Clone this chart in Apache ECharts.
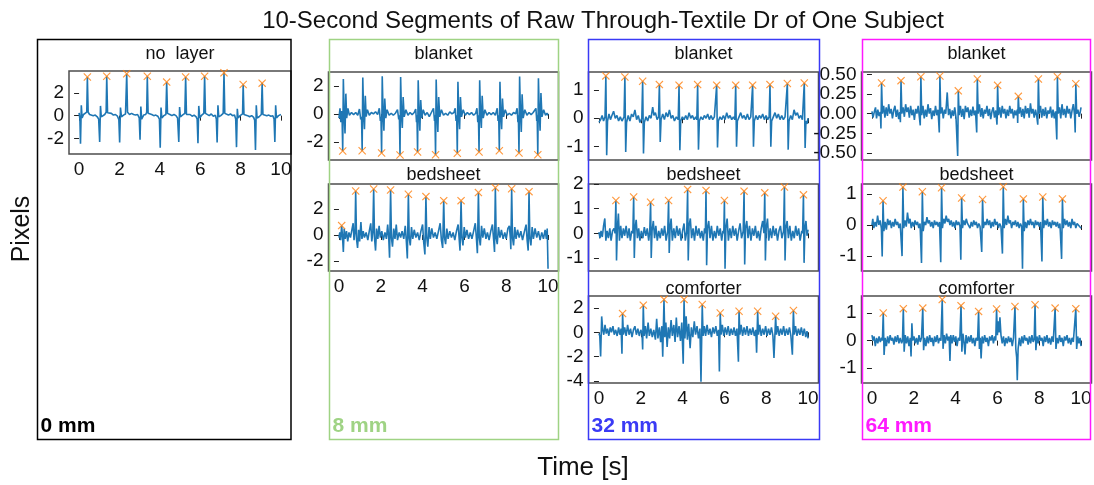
<!DOCTYPE html>
<html>
<head>
<meta charset="utf-8">
<script src="https://cdn.jsdelivr.net/npm/echarts@6.0.0/dist/echarts.min.js"></script>
<style>
  html, body { margin: 0; padding: 0; background: #fff; }
  #chart { width: 1094px; height: 485px; }
</style>
</head>
<body>
<div id="chart"></div>
<script>
// ---- data: [time s, pixels] ----
const sigNoLayer = [[0,0.25],[0.04,-0.3],[0.07,-2.45],[0.11,0.9],[0.15,-0.2],[0.22,0.1],[0.3,0.05],[0.38,0.3],[0.41,3.38],[0.45,0.3],[0.52,0.1],[0.6,0.15],[0.7,0.0],[0.8,0.05],[0.9,-0.1],[0.97,-0.3],[1.02,-2.3],[1.06,0.85],[1.1,-0.1],[1.18,0.05],[1.27,0.1],[1.34,0.3],[1.37,3.44],[1.41,0.25],[1.5,0.1],[1.6,0.2],[1.7,0.05],[1.8,0.1],[1.9,-0.05],[1.97,-0.35],[2.01,-2.35],[2.05,0.7],[2.1,-0.1],[2.2,0.05],[2.3,0.15],[2.33,0.3],[2.36,3.65],[2.4,0.3],[2.5,0.1],[2.6,0.2],[2.7,0.1],[2.8,0.05],[2.9,0.1],[2.98,-0.2],[3.02,-2.1],[3.06,0.8],[3.1,-0.3],[3.2,0.05],[3.3,0.1],[3.35,0.3],[3.38,3.44],[3.42,0.2],[3.5,0.05],[3.6,0.1],[3.7,0.0],[3.8,0.05],[3.9,-0.05],[3.98,-0.3],[4.02,-2.8],[4.06,0.7],[4.1,-0.2],[4.2,0.0],[4.3,0.1],[4.34,2.93],[4.38,0.2],[4.5,0.1],[4.6,0.0],[4.7,0.1],[4.8,0.0],[4.88,-0.2],[4.94,-2.3],[4.98,0.75],[5.02,-0.1],[5.12,0.05],[5.24,0.2],[5.28,3.38],[5.32,0.1],[5.4,0.0],[5.5,0.1],[5.6,-0.05],[5.7,0.05],[5.8,-0.1],[5.85,-0.3],[5.89,-2.4],[5.93,0.85],[5.98,-0.2],[6.08,0.05],[6.18,0.2],[6.22,3.44],[6.26,0.2],[6.35,0.1],[6.45,0.0],[6.55,0.15],[6.65,-0.05],[6.75,0.05],[6.8,-0.3],[6.84,-2.35],[6.88,0.9],[6.92,-0.1],[7.02,0.0],[7.14,0.2],[7.18,3.74],[7.22,0.2],[7.3,0.1],[7.4,0.05],[7.5,0.15],[7.6,0.0],[7.7,0.05],[7.76,-0.3],[7.8,-2.75],[7.84,0.6],[7.88,-0.2],[7.98,0.0],[8.1,0.15],[8.13,2.72],[8.17,0.1],[8.25,-0.05],[8.35,0.0],[8.45,-0.1],[8.55,0.0],[8.65,-0.15],[8.7,-0.4],[8.74,-3.0],[8.78,0.9],[8.82,-0.2],[8.92,-0.1],[9.03,0.1],[9.07,2.84],[9.11,0.1],[9.2,-0.05],[9.3,0.0],[9.4,0.05],[9.5,-0.05],[9.6,0.0],[9.66,-0.3],[9.7,-2.3],[9.74,0.9],[9.78,-0.2],[9.88,0.0],[9.95,0.15],[10,0.1]];
const peakTNoLayer = [0.41,1.37,2.36,3.38,4.34,5.28,6.22,7.18,8.13,9.07];
const peakVNoLayer = [3.38,3.44,3.65,3.44,2.93,3.38,3.44,3.74,2.72,2.84];

const sig8Blanket = [[0,-0.3],[0.05,0.4],[0.09,-0.6],[0.13,0.2],[0.15,-0.3],[0.18,-2.66],[0.21,2.5],[0.25,0.0],[0.29,-1.4],[0.33,1.45],[0.37,-0.3],[0.43,0.4],[0.5,-0.1],[0.6,0.1],[0.7,-0.05],[0.8,0.1],[0.9,-0.1],[0.98,0.35],[1.04,-0.4],[1.08,-0.2],[1.11,-2.64],[1.14,2.6],[1.18,0.0],[1.22,-1.1],[1.26,1.3],[1.3,-0.2],[1.36,0.3],[1.45,-0.1],[1.55,0.1],[1.65,0.0],[1.75,0.15],[1.85,-0.05],[1.93,0.4],[1.98,-0.5],[2.01,-0.2],[2.04,-2.8],[2.07,2.7],[2.11,0.1],[2.15,-1.2],[2.19,1.1],[2.24,-0.3],[2.3,0.3],[2.4,-0.1],[2.5,0.05],[2.6,-0.1],[2.7,0.05],[2.8,0.3],[2.86,-0.4],[2.89,-0.1],[2.92,-2.94],[2.95,2.64],[2.99,0.0],[3.03,-1.0],[3.07,1.2],[3.12,-0.2],[3.2,0.3],[3.3,-0.1],[3.4,0.1],[3.5,-0.05],[3.6,0.1],[3.67,0.35],[3.71,-0.6],[3.73,-0.1],[3.76,-2.73],[3.79,2.4],[3.83,0.1],[3.87,-1.2],[3.91,1.0],[3.96,-0.3],[4.03,0.3],[4.12,-0.1],[4.22,0.1],[4.32,-0.2],[4.42,0.1],[4.52,0.4],[4.57,-0.5],[4.59,-0.1],[4.62,-2.92],[4.65,2.47],[4.69,0.0],[4.73,-1.3],[4.77,1.2],[4.82,-0.2],[4.9,0.3],[5.0,-0.1],[5.1,0.05],[5.2,-0.1],[5.3,0.15],[5.4,0.0],[5.5,0.1],[5.56,0.4],[5.6,-0.5],[5.63,-0.1],[5.66,-2.82],[5.69,2.3],[5.73,0.0],[5.77,-1.1],[5.81,1.2],[5.86,-0.2],[5.94,0.3],[6.04,-0.1],[6.14,0.1],[6.24,-0.05],[6.34,0.1],[6.44,-0.1],[6.54,0.05],[6.6,0.4],[6.64,-0.6],[6.67,-0.1],[6.7,-2.73],[6.73,2.4],[6.77,0.0],[6.81,-1.0],[6.85,1.3],[6.9,-0.3],[6.98,0.3],[7.08,-0.1],[7.18,0.1],[7.28,-0.05],[7.38,0.1],[7.48,-0.1],[7.57,0.4],[7.61,-0.5],[7.64,-0.1],[7.67,-2.64],[7.7,2.3],[7.74,0.0],[7.78,-1.1],[7.82,1.1],[7.87,-0.2],[7.95,0.3],[8.05,-0.1],[8.15,0.05],[8.25,-0.1],[8.35,0.1],[8.45,0.0],[8.52,0.4],[8.56,-0.6],[8.58,-0.1],[8.61,-2.8],[8.64,2.68],[8.68,0.1],[8.72,-1.3],[8.76,1.4],[8.81,-0.3],[8.89,0.3],[8.99,-0.1],[9.09,0.1],[9.19,-0.05],[9.29,0.1],[9.42,0.4],[9.46,-0.5],[9.48,-0.1],[9.51,-2.92],[9.54,2.56],[9.58,0.1],[9.62,-1.2],[9.66,1.5],[9.71,-0.2],[9.79,0.3],[9.88,-0.1],[9.95,0.05],[10,-0.1]];
const peakT8Blanket = [0.18,1.11,2.04,2.92,3.76,4.62,5.66,6.70,7.67,8.61,9.51];
const peakV8Blanket = [-2.66,-2.64,-2.8,-2.94,-2.73,-2.92,-2.82,-2.73,-2.64,-2.8,-2.92];

const sig8Bedsheet = [[0,-0.2],[0.04,0.2],[0.08,-0.4],[0.13,0.72],[0.17,-0.1],[0.21,-1.3],[0.25,0.5],[0.3,-0.3],[0.36,0.3],[0.42,-0.5],[0.48,0.2],[0.55,-0.2],[0.62,0.4],[0.68,0.9],[0.72,-0.4],[0.77,0.3],[0.8,3.38],[0.84,-0.3],[0.89,-1.0],[0.94,0.4],[0.99,-0.5],[1.05,1.0],[1.1,-0.3],[1.16,0.3],[1.22,-0.2],[1.3,0.2],[1.38,-0.4],[1.45,0.3],[1.52,0.9],[1.57,-0.5],[1.62,0.2],[1.66,3.54],[1.7,-0.2],[1.75,-1.2],[1.8,0.5],[1.86,-0.3],[1.92,0.7],[1.98,-0.2],[2.05,0.3],[2.12,-0.4],[2.2,0.2],[2.27,-0.3],[2.33,0.8],[2.38,-0.2],[2.42,-1.75],[2.47,3.46],[2.51,-0.2],[2.56,-0.9],[2.62,0.5],[2.68,-0.3],[2.74,0.8],[2.8,-0.4],[2.88,0.2],[2.95,-0.2],[3.02,0.3],[3.1,-0.3],[3.17,0.7],[3.22,-0.4],[3.27,-1.8],[3.32,3.13],[3.36,-0.2],[3.41,-0.8],[3.47,0.6],[3.53,-0.3],[3.6,0.4],[3.68,-0.2],[3.76,0.2],[3.84,-0.4],[3.92,0.3],[4.0,0.8],[4.05,-0.5],[4.11,-1.5],[4.16,2.95],[4.2,-0.2],[4.25,-0.9],[4.31,0.6],[4.37,-0.3],[4.44,0.5],[4.52,-0.2],[4.6,0.2],[4.68,-0.3],[4.76,0.3],[4.84,0.9],[4.9,-0.4],[4.96,-1.0],[5.01,2.64],[5.05,-0.2],[5.1,-0.7],[5.16,0.5],[5.22,-0.3],[5.3,0.3],[5.38,-0.2],[5.46,0.2],[5.54,-0.4],[5.62,0.3],[5.7,0.8],[5.75,-0.3],[5.79,-1.2],[5.84,2.64],[5.88,-0.2],[5.93,-0.8],[5.99,0.6],[6.05,-0.2],[6.12,0.4],[6.2,-0.3],[6.28,0.2],[6.36,-0.3],[6.44,0.3],[6.52,0.9],[6.58,-0.4],[6.62,-1.4],[6.67,3.26],[6.71,-0.2],[6.76,-0.8],[6.82,0.7],[6.88,-0.2],[6.95,0.5],[7.03,-0.3],[7.1,0.2],[7.18,-0.4],[7.26,0.3],[7.34,0.8],[7.4,-0.4],[7.44,-1.3],[7.48,3.64],[7.52,-0.2],[7.57,-0.7],[7.63,0.6],[7.7,-0.2],[7.77,0.4],[7.85,-0.3],[7.93,0.2],[8.0,-0.3],[8.08,0.5],[8.15,0.7],[8.2,-0.3],[8.22,-1.1],[8.26,3.56],[8.3,-0.2],[8.35,-0.8],[8.41,0.6],[8.47,-0.3],[8.54,0.4],[8.62,-0.2],[8.7,0.3],[8.78,-0.4],[8.86,0.2],[8.95,0.8],[9.0,-0.4],[9.05,-1.2],[9.09,3.33],[9.13,-0.2],[9.18,-0.8],[9.24,0.6],[9.3,-0.3],[9.38,0.5],[9.46,-0.2],[9.54,0.3],[9.62,-0.4],[9.7,0.2],[9.78,-0.3],[9.86,0.4],[9.92,-0.3],[9.96,0.5],[10,-2.6]];
const peakT8Bedsheet = [0.13,0.80,1.66,2.47,3.32,4.16,5.01,5.84,6.67,7.48,8.26,9.09];
const peakV8Bedsheet = [0.72,3.38,3.54,3.46,3.13,2.95,2.64,2.64,3.26,3.64,3.56,3.33];

const sig32Blanket = [[0,-0.15],[0.08,-0.05],[0.15,0.1],[0.22,-0.1],[0.29,0.05],[0.33,1.51],[0.37,-1.32],[0.41,-0.1],[0.48,0.15],[0.55,-0.05],[0.62,0.1],[0.7,0.25],[0.78,0.0],[0.86,0.1],[0.94,-0.1],[1.02,0.05],[1.1,-0.1],[1.2,0.05],[1.24,1.47],[1.28,-1.2],[1.32,-0.15],[1.4,0.1],[1.48,-0.1],[1.56,0.15],[1.64,0.05],[1.72,0.3],[1.8,-0.05],[1.88,0.1],[1.96,-0.15],[2.05,0.0],[2.09,1.32],[2.13,-1.26],[2.17,-0.15],[2.25,0.05],[2.33,-0.1],[2.41,0.1],[2.49,0.0],[2.57,0.4],[2.63,0.1],[2.7,0.2],[2.78,-0.05],[2.85,0.05],[2.89,1.2],[2.93,-0.85],[2.97,-0.05],[3.05,0.15],[3.13,-0.05],[3.21,0.2],[3.29,0.05],[3.37,0.3],[3.45,0.0],[3.53,0.1],[3.61,-0.1],[3.7,0.05],[3.79,-0.05],[3.83,1.18],[3.87,-1.14],[3.91,-0.1],[3.99,0.05],[4.07,-0.05],[4.15,0.1],[4.23,-0.05],[4.31,0.2],[4.39,0.0],[4.47,0.1],[4.55,-0.05],[4.63,0.05],[4.68,-0.05],[4.72,1.2],[4.76,-1.12],[4.8,-0.1],[4.88,0.05],[4.96,-0.05],[5.04,0.1],[5.12,0.0],[5.2,0.15],[5.28,-0.05],[5.36,0.1],[5.44,-0.05],[5.52,0.05],[5.59,0.0],[5.63,1.18],[5.67,-1.04],[5.71,-0.1],[5.79,0.05],[5.87,-0.05],[5.95,0.1],[6.03,-0.05],[6.11,0.2],[6.19,0.0],[6.27,0.1],[6.35,-0.05],[6.43,0.05],[6.5,-0.05],[6.54,1.18],[6.58,-1.02],[6.62,-0.1],[6.7,0.05],[6.78,0.2],[6.86,0.0],[6.94,0.1],[7.02,-0.05],[7.1,0.15],[7.18,-0.05],[7.26,0.05],[7.31,0.0],[7.35,1.18],[7.39,-1.02],[7.43,-0.1],[7.51,0.1],[7.59,-0.05],[7.67,0.1],[7.75,0.0],[7.83,0.15],[7.91,-0.05],[7.99,0.1],[8.07,-0.05],[8.14,0.05],[8.18,1.2],[8.22,-1.02],[8.26,-0.1],[8.34,0.05],[8.42,0.2],[8.5,0.0],[8.58,0.15],[8.66,-0.05],[8.74,0.1],[8.82,-0.05],[8.9,0.05],[8.97,0.0],[9.01,1.24],[9.05,-1.12],[9.09,-0.1],[9.17,0.1],[9.25,-0.05],[9.33,0.3],[9.41,0.1],[9.49,0.2],[9.57,0.0],[9.65,0.1],[9.73,-0.05],[9.78,0.0],[9.82,1.26],[9.86,-1.06],[9.9,-0.1],[9.95,-0.2],[10,0.0]];
const peakT32Blanket = [0.33,1.24,2.09,2.89,3.83,4.72,5.63,6.54,7.35,8.18,9.01,9.82];
const peakV32Blanket = [1.51,1.47,1.32,1.20,1.18,1.20,1.18,1.18,1.18,1.20,1.24,1.26];

const sig32Bedsheet = [[0,0.05],[0.05,-0.2],[0.1,0.1],[0.16,-0.15],[0.22,0.3],[0.28,0.6],[0.33,-0.3],[0.39,0.1],[0.45,-0.2],[0.52,0.2],[0.58,-0.3],[0.65,0.1],[0.72,0.2],[0.77,0.0],[0.81,1.33],[0.84,-1.1],[0.88,0.2],[0.93,0.8],[0.98,-0.3],[1.04,0.3],[1.1,-0.2],[1.17,0.2],[1.23,-0.1],[1.3,0.3],[1.37,-0.2],[1.44,0.2],[1.5,-0.3],[1.57,0.1],[1.62,0.0],[1.66,1.47],[1.69,-1.0],[1.73,0.2],[1.78,0.55],[1.84,-0.2],[1.9,0.2],[1.96,-0.3],[2.03,0.1],[2.1,-0.2],[2.17,0.25],[2.24,-0.1],[2.31,0.2],[2.38,-0.3],[2.43,0.1],[2.47,1.26],[2.5,-1.0],[2.54,0.1],[2.6,0.5],[2.66,-0.2],[2.72,0.3],[2.79,-0.3],[2.86,0.1],[2.93,-0.2],[3.0,0.2],[3.07,-0.1],[3.14,0.3],[3.21,-0.3],[3.29,0.1],[3.33,1.33],[3.36,-0.8],[3.4,0.2],[3.45,0.6],[3.51,-0.3],[3.58,0.2],[3.65,-0.2],[3.72,0.3],[3.79,-0.1],[3.86,0.2],[3.93,-0.3],[4.0,0.1],[4.07,0.4],[4.13,-0.3],[4.2,0.1],[4.24,1.78],[4.27,-1.1],[4.31,0.3],[4.37,0.6],[4.43,-0.2],[4.5,0.2],[4.57,-0.3],[4.64,0.3],[4.71,-0.1],[4.78,0.2],[4.85,-0.2],[4.92,0.1],[4.99,-0.3],[5.05,0.2],[5.09,0.0],[5.12,1.74],[5.15,-1.3],[5.19,0.2],[5.25,0.5],[5.31,-0.2],[5.38,0.3],[5.45,-0.3],[5.52,0.1],[5.59,-0.2],[5.66,0.3],[5.73,-0.1],[5.8,0.2],[5.87,-0.3],[5.93,0.1],[5.97,0.0],[6.0,1.33],[6.03,-1.44],[6.07,0.2],[6.13,0.6],[6.19,-0.3],[6.26,0.2],[6.33,-0.2],[6.4,0.3],[6.47,-0.1],[6.54,0.2],[6.61,-0.3],[6.68,0.1],[6.75,0.4],[6.82,-0.2],[6.9,0.1],[6.94,1.71],[6.97,-1.27],[7.01,0.2],[7.07,0.5],[7.13,-0.2],[7.2,0.3],[7.27,-0.3],[7.34,0.2],[7.41,-0.1],[7.48,0.3],[7.55,-0.2],[7.62,0.1],[7.69,-0.3],[7.76,0.2],[7.83,0.5],[7.89,0.0],[7.93,1.64],[7.96,-1.1],[8.0,0.2],[8.06,0.6],[8.12,-0.3],[8.19,0.2],[8.26,-0.2],[8.33,0.3],[8.4,-0.1],[8.47,0.2],[8.54,-0.3],[8.61,0.1],[8.68,0.3],[8.75,-0.2],[8.83,0.1],[8.87,1.88],[8.9,-1.1],[8.94,0.2],[9.0,0.5],[9.06,-0.2],[9.13,0.3],[9.2,-0.3],[9.27,0.1],[9.34,-0.2],[9.41,0.3],[9.48,-0.1],[9.55,0.2],[9.62,-0.3],[9.7,0.1],[9.74,0.0],[9.78,1.56],[9.81,-1.2],[9.85,0.2],[9.9,0.5],[9.95,-0.1],[10,0.15]];
const peakT32Bedsheet = [0.81,1.66,2.47,3.33,4.24,5.12,6.0,6.94,7.93,8.87,9.78];
const peakV32Bedsheet = [1.33,1.47,1.26,1.33,1.78,1.74,1.33,1.71,1.64,1.88,1.56];

const sig32Comforter = [[0,-0.1],[0.04,-0.3],[0.08,-1.97],[0.13,1.3],[0.18,0.2],[0.23,-0.2],[0.29,0.6],[0.35,-0.1],[0.41,0.3],[0.47,-0.3],[0.54,0.4],[0.6,0.0],[0.67,0.5],[0.73,-0.2],[0.8,0.2],[0.87,-0.3],[0.94,0.4],[1.0,-0.2],[1.06,0.3],[1.1,-1.75],[1.13,1.53],[1.17,-0.2],[1.23,0.4],[1.3,-0.3],[1.37,0.6],[1.44,-0.2],[1.51,0.3],[1.58,-0.4],[1.65,0.2],[1.72,0.5],[1.79,-0.2],[1.86,0.3],[1.93,-0.3],[2.0,0.2],[2.06,-0.1],[2.09,-1.4],[2.12,2.22],[2.16,-0.3],[2.22,0.5],[2.28,-0.5],[2.35,0.8],[2.41,-0.3],[2.48,0.3],[2.55,-0.4],[2.62,0.2],[2.7,-0.6],[2.76,1.1],[2.82,-0.5],[2.89,0.4],[2.95,-0.8],[3.01,0.5],[3.05,-2.0],[3.11,2.69],[3.15,-0.4],[3.2,0.8],[3.26,-1.2],[3.32,0.4],[3.38,-0.5],[3.45,1.0],[3.51,-0.3],[3.58,0.6],[3.64,-0.8],[3.7,1.2],[3.76,-0.4],[3.83,0.5],[3.9,-0.7],[3.96,0.8],[4.03,-2.58],[4.07,2.69],[4.11,-0.5],[4.17,1.3],[4.23,-0.6],[4.29,0.7],[4.36,-1.3],[4.42,0.4],[4.49,-0.4],[4.56,0.9],[4.62,-0.2],[4.69,0.5],[4.76,-0.5],[4.83,0.3],[4.88,-4.05],[4.94,2.28],[4.98,-0.3],[5.04,0.5],[5.1,-0.3],[5.17,0.6],[5.24,-0.2],[5.31,0.3],[5.38,-0.4],[5.45,0.4],[5.52,-0.1],[5.59,0.5],[5.66,-0.3],[5.72,0.2],[5.76,-3.2],[5.8,1.58],[5.84,-0.2],[5.9,0.6],[5.97,-0.3],[6.04,0.4],[6.11,-0.2],[6.18,0.5],[6.25,-0.3],[6.32,0.3],[6.39,-0.2],[6.46,0.4],[6.53,-0.3],[6.6,0.3],[6.67,-2.4],[6.7,1.72],[6.74,-0.2],[6.8,0.6],[6.87,-0.3],[6.94,0.4],[7.01,-0.2],[7.08,0.5],[7.15,-0.3],[7.22,0.3],[7.29,-0.2],[7.36,0.4],[7.43,-0.3],[7.5,0.2],[7.54,-1.67],[7.59,1.72],[7.63,-0.2],[7.69,0.6],[7.76,-0.3],[7.83,0.3],[7.9,-0.2],[7.97,0.5],[8.04,-0.3],[8.11,0.3],[8.18,-0.2],[8.25,0.4],[8.32,-0.3],[8.37,-2.1],[8.45,1.31],[8.49,-0.2],[8.55,0.5],[8.62,-0.3],[8.69,0.3],[8.76,-0.2],[8.83,0.5],[8.9,-0.3],[8.97,0.3],[9.04,-0.2],[9.11,0.4],[9.18,-0.3],[9.25,-1.83],[9.3,1.78],[9.34,-0.2],[9.4,0.5],[9.47,-0.3],[9.54,0.3],[9.61,-0.2],[9.68,0.4],[9.75,-0.3],[9.82,0.3],[9.89,-0.4],[9.95,0.1],[10,-0.5]];
const peakT32Comforter = [1.13,2.12,3.11,4.07,4.94,5.80,6.70,7.59,8.45,9.30];
const peakV32Comforter = [1.53,2.22,2.69,2.69,2.28,1.58,1.72,1.72,1.31,1.78];

const sig64Blanket = [[0,0.03],[0.05,-0.05],[0.11,0.02],[0.17,0.08],[0.22,-0.06],[0.28,0.05],[0.34,-0.03],[0.4,0.02],[0.43,-0.19],[0.46,0.39],[0.5,0.0],[0.56,0.1],[0.62,-0.05],[0.68,0.08],[0.74,-0.03],[0.8,0.12],[0.86,0.0],[0.92,0.06],[0.98,-0.06],[1.04,0.04],[1.1,0.1],[1.16,-0.04],[1.22,0.05],[1.28,-0.07],[1.33,0.02],[1.36,-0.11],[1.39,0.42],[1.43,0.0],[1.49,0.08],[1.55,-0.04],[1.61,0.12],[1.67,0.02],[1.73,0.08],[1.79,-0.05],[1.85,0.1],[1.91,-0.02],[1.97,0.05],[2.03,-0.08],[2.09,0.06],[2.15,0.0],[2.21,0.1],[2.27,-0.05],[2.31,-0.15],[2.34,0.47],[2.38,-0.02],[2.44,0.1],[2.5,-0.06],[2.56,0.05],[2.62,-0.04],[2.68,0.12],[2.74,0.0],[2.8,0.07],[2.86,-0.07],[2.92,0.04],[2.98,-0.03],[3.04,0.1],[3.1,-0.02],[3.16,0.05],[3.22,-0.24],[3.25,0.48],[3.29,0.0],[3.35,0.08],[3.41,-0.06],[3.47,0.05],[3.53,0.0],[3.6,0.27],[3.66,-0.02],[3.72,0.06],[3.78,-0.06],[3.84,0.04],[3.9,-0.03],[3.96,0.08],[4.02,-0.05],[4.1,-0.54],[4.13,0.29],[4.17,-0.02],[4.23,0.1],[4.29,-0.04],[4.35,0.06],[4.41,-0.07],[4.47,0.1],[4.53,0.02],[4.59,0.08],[4.65,-0.05],[4.71,0.05],[4.77,-0.03],[4.83,0.09],[4.89,-0.02],[4.95,0.04],[5.01,-0.24],[5.04,0.44],[5.08,0.0],[5.14,0.12],[5.2,-0.04],[5.26,0.07],[5.32,-0.06],[5.38,0.05],[5.44,0.0],[5.5,0.1],[5.56,-0.03],[5.62,0.06],[5.68,-0.07],[5.74,0.03],[5.8,0.08],[5.86,-0.05],[5.92,0.04],[5.98,-0.14],[6.01,0.36],[6.05,-0.02],[6.11,0.08],[6.17,-0.05],[6.23,0.1],[6.29,0.0],[6.35,0.06],[6.41,-0.06],[6.47,0.05],[6.53,-0.03],[6.59,0.1],[6.65,0.0],[6.71,0.06],[6.77,-0.06],[6.83,0.04],[6.89,-0.02],[6.95,0.05],[6.97,-0.12],[7.0,0.22],[7.04,0.0],[7.1,0.08],[7.16,-0.04],[7.22,0.06],[7.28,-0.06],[7.34,0.1],[7.4,0.0],[7.46,0.07],[7.52,-0.05],[7.58,0.13],[7.64,0.0],[7.7,0.06],[7.76,-0.05],[7.82,0.05],[7.88,-0.03],[7.93,-0.14],[7.96,0.44],[8.0,0.0],[8.06,0.1],[8.12,-0.05],[8.18,0.06],[8.24,-0.03],[8.3,0.08],[8.36,-0.06],[8.42,0.04],[8.48,0.0],[8.54,0.09],[8.6,-0.05],[8.66,0.05],[8.72,-0.06],[8.78,0.03],[8.84,-0.33],[8.87,0.47],[8.91,0.0],[8.97,0.08],[9.03,-0.06],[9.09,0.12],[9.15,-0.02],[9.21,0.06],[9.27,-0.05],[9.33,0.1],[9.39,0.0],[9.45,0.06],[9.51,-0.06],[9.57,0.04],[9.63,0.12],[9.69,-0.02],[9.72,-0.24],[9.75,0.38],[9.79,0.0],[9.85,0.05],[9.91,-0.04],[9.96,0.02],[10,0.08]];
const peakT64Blanket = [0.46,1.39,2.34,3.25,4.13,5.04,6.01,7.0,7.96,8.87,9.75];
const peakV64Blanket = [0.39,0.42,0.47,0.48,0.29,0.44,0.36,0.22,0.44,0.47,0.38];

const sig64Bedsheet = [[0,0.0],[0.04,0.2],[0.09,-0.1],[0.15,0.1],[0.21,-0.05],[0.27,0.3],[0.33,0.0],[0.39,0.15],[0.45,-0.1],[0.49,-1.01],[0.53,0.78],[0.57,-0.2],[0.63,0.1],[0.69,-0.15],[0.75,0.2],[0.81,0.0],[0.87,0.15],[0.93,-0.1],[0.99,0.1],[1.05,-0.05],[1.11,0.2],[1.17,0.0],[1.23,0.1],[1.29,-0.1],[1.35,0.05],[1.44,-1.0],[1.48,1.22],[1.52,-0.1],[1.58,0.15],[1.64,-0.05],[1.7,0.4],[1.76,0.05],[1.82,0.2],[1.88,-0.1],[1.94,0.1],[2.0,-0.05],[2.06,0.15],[2.12,0.0],[2.18,0.1],[2.24,-0.1],[2.3,0.05],[2.37,-1.22],[2.41,1.07],[2.45,-0.2],[2.51,0.1],[2.57,0.0],[2.63,0.25],[2.69,0.05],[2.75,0.15],[2.81,-0.05],[2.87,0.1],[2.93,-0.1],[2.99,0.15],[3.05,0.0],[3.11,0.1],[3.17,-0.05],[3.23,0.1],[3.29,-1.2],[3.33,1.2],[3.37,-0.1],[3.43,0.2],[3.49,0.05],[3.55,0.3],[3.61,0.1],[3.67,0.2],[3.73,0.0],[3.79,0.15],[3.85,-0.05],[3.91,0.1],[3.97,-0.1],[4.03,0.15],[4.09,0.0],[4.15,0.1],[4.21,-0.05],[4.25,-1.12],[4.29,0.87],[4.33,-0.1],[4.39,0.15],[4.45,0.0],[4.51,0.2],[4.57,0.05],[4.63,0.1],[4.69,-0.1],[4.75,0.1],[4.81,-0.05],[4.87,0.15],[4.93,0.0],[4.99,0.1],[5.05,-0.1],[5.11,0.05],[5.17,-0.05],[5.25,-0.87],[5.29,0.82],[5.33,-0.1],[5.39,0.1],[5.45,0.0],[5.51,0.2],[5.57,0.0],[5.63,0.15],[5.69,-0.1],[5.75,0.1],[5.81,-0.05],[5.87,0.2],[5.93,0.0],[5.99,0.1],[6.05,-0.1],[6.11,0.05],[6.17,-0.05],[6.24,-0.92],[6.28,1.23],[6.32,-0.1],[6.38,0.2],[6.44,0.0],[6.5,0.3],[6.56,0.05],[6.62,0.15],[6.68,-0.1],[6.74,0.1],[6.8,0.0],[6.86,0.15],[6.92,-0.05],[6.98,0.1],[7.04,-0.1],[7.1,0.05],[7.16,-0.05],[7.2,-1.41],[7.24,0.84],[7.28,-0.2],[7.34,0.1],[7.4,-0.1],[7.46,0.15],[7.52,0.0],[7.58,0.2],[7.64,0.0],[7.7,0.1],[7.76,-0.1],[7.82,0.15],[7.88,0.0],[7.94,0.1],[8.0,-0.05],[8.06,0.1],[8.13,-1.17],[8.17,0.9],[8.21,-0.1],[8.27,0.15],[8.33,0.0],[8.39,0.2],[8.45,-0.05],[8.51,0.1],[8.57,-0.1],[8.63,0.15],[8.69,0.0],[8.75,0.1],[8.81,-0.05],[8.87,0.1],[8.93,-0.1],[8.99,0.05],[9.07,-1.09],[9.11,0.84],[9.15,-0.1],[9.21,0.2],[9.27,0.0],[9.33,0.15],[9.39,-0.05],[9.45,0.1],[9.51,-0.1],[9.57,0.2],[9.63,0.0],[9.69,0.1],[9.75,-0.1],[9.81,0.05],[9.87,0.1],[9.93,-0.05],[10,-0.1]];
const peakT64Bedsheet = [0.53,1.48,2.41,3.33,4.29,5.29,6.28,7.24,8.17,9.11];
const peakV64Bedsheet = [0.78,1.22,1.07,1.20,0.87,0.82,1.23,0.84,0.90,0.84];

const sig64Comforter = [[0,0.2],[0.05,0.0],[0.1,0.15],[0.16,-0.2],[0.22,0.1],[0.28,-0.1],[0.34,0.15],[0.4,-0.05],[0.46,0.1],[0.5,0.0],[0.54,1.0],[0.58,-0.52],[0.63,0.1],[0.69,-0.2],[0.75,0.15],[0.81,-0.1],[0.87,0.2],[0.93,0.0],[0.99,0.1],[1.05,-0.15],[1.11,0.15],[1.17,-0.05],[1.23,0.2],[1.29,-0.1],[1.35,0.1],[1.42,-0.1],[1.46,0.0],[1.5,1.16],[1.54,-0.4],[1.59,0.2],[1.65,-0.1],[1.71,0.15],[1.77,-0.2],[1.83,0.1],[1.87,-0.58],[1.91,0.63],[1.95,0.0],[2.01,0.15],[2.07,-0.1],[2.13,0.1],[2.19,-0.15],[2.25,0.2],[2.31,-0.05],[2.37,0.1],[2.43,1.18],[2.47,-0.35],[2.52,0.1],[2.58,-0.2],[2.64,0.15],[2.7,-0.1],[2.76,0.2],[2.82,-0.05],[2.88,0.1],[2.94,-0.2],[3.0,0.15],[3.06,-0.05],[3.12,0.2],[3.18,-0.1],[3.24,0.1],[3.3,0.0],[3.36,1.49],[3.4,-0.3],[3.45,0.2],[3.51,-0.1],[3.57,0.25],[3.63,0.0],[3.69,0.15],[3.73,-0.74],[3.77,0.2],[3.83,-0.1],[3.89,0.2],[3.95,-0.05],[4.01,0.15],[4.07,-0.2],[4.13,0.1],[4.2,0.0],[4.26,1.27],[4.3,-0.4],[4.35,0.25],[4.41,-0.1],[4.45,-0.5],[4.5,0.2],[4.56,-0.1],[4.62,0.15],[4.68,-0.05],[4.74,0.2],[4.8,-0.1],[4.86,0.1],[4.92,-0.2],[4.98,0.1],[5.05,0.0],[5.1,1.06],[5.14,-0.3],[5.18,0.1],[5.22,-0.65],[5.27,0.15],[5.33,-0.1],[5.39,0.2],[5.45,-0.05],[5.51,0.1],[5.57,-0.2],[5.63,0.15],[5.69,0.0],[5.75,0.2],[5.81,-0.1],[5.87,0.15],[5.92,0.0],[5.96,1.15],[6.0,0.2],[6.03,0.7],[6.08,0.3],[6.12,0.85],[6.17,0.2],[6.23,-0.1],[6.29,0.15],[6.35,-0.2],[6.41,0.1],[6.47,-0.1],[6.53,0.15],[6.59,-0.05],[6.65,0.1],[6.71,-0.2],[6.77,0.1],[6.84,1.24],[6.88,-0.3],[6.92,-0.6],[6.95,-1.44],[6.99,-0.3],[7.05,0.1],[7.11,-0.2],[7.17,0.15],[7.23,-0.1],[7.29,0.2],[7.35,0.0],[7.41,0.1],[7.47,-0.15],[7.53,0.15],[7.59,-0.1],[7.65,0.2],[7.71,-0.05],[7.76,0.05],[7.8,1.3],[7.84,-0.35],[7.89,0.15],[7.95,-0.1],[8.01,0.2],[8.07,0.0],[8.13,0.1],[8.19,-0.2],[8.25,0.15],[8.31,-0.05],[8.37,0.2],[8.43,-0.1],[8.49,0.1],[8.55,-0.15],[8.61,0.15],[8.67,-0.05],[8.72,0.0],[8.76,1.18],[8.8,-0.3],[8.85,0.1],[8.91,-0.1],[8.97,0.2],[9.03,-0.05],[9.09,0.1],[9.15,-0.2],[9.21,0.15],[9.27,0.0],[9.33,0.2],[9.39,-0.1],[9.45,0.1],[9.51,-0.15],[9.57,0.1],[9.63,-0.05],[9.7,0.0],[9.75,1.16],[9.79,-0.3],[9.84,0.15],[9.9,-0.1],[9.95,0.1],[10,-0.2]];
const peakT64Comforter = [0.54,1.50,2.43,3.36,4.26,5.10,5.96,6.84,7.80,8.76,9.75];
const peakV64Comforter = [1.0,1.16,1.18,1.49,1.27,1.06,1.15,1.24,1.30,1.18,1.16];

const xTicks = [0, 2, 4, 6, 8, 10];
const yTicks2 = [-2, 0, 2];
const yTicks1 = [-1, 0, 1];
const yTicks32Bed = [-1, 0, 1, 2];
const yTicks32Com = [-4, -2, 0, 2];
const yTicks64Blk = [-0.5, -0.25, 0, 0.25, 0.5];

// ---- layout ----
const FONT = 'Liberation Sans, Arial, sans-serif';
const panels = [
  { name: 'no  layer', sig: sigNoLayer, pt: peakTNoLayer, pv: peakVNoLayer, box: [69, 71, 222, 83], ty: 54, y: [-3.35, 3.9], yt: yTicks2, xl: true },
  { name: 'blanket', sig: sig8Blanket, pt: peakT8Blanket, pv: peakV8Blanket, box: [328.5, 72, 230, 88], ty: 54, y: [-3.3, 3.0], yt: yTicks2, xl: false },
  { name: 'bedsheet', sig: sig8Bedsheet, pt: peakT8Bedsheet, pv: peakV8Bedsheet, box: [328.5, 184, 230, 87], ty: 175, y: [-2.77, 3.92], yt: yTicks2, xl: true },
  { name: 'blanket', sig: sig32Blanket, pt: peakT32Blanket, pv: peakV32Blanket, box: [588.5, 72, 230, 88], ty: 54, y: [-1.49, 1.65], yt: yTicks1, xl: false },
  { name: 'bedsheet', sig: sig32Bedsheet, pt: peakT32Bedsheet, pv: peakV32Bedsheet, box: [588.5, 184, 230, 87], ty: 175, y: [-1.53, 2.0], yt: yTicks32Bed, xl: false },
  { name: 'comforter', sig: sig32Comforter, pt: peakT32Comforter, pv: peakV32Comforter, box: [588.5, 296, 230, 87], ty: 289, y: [-4.15, 2.97], yt: yTicks32Com, xl: true },
  { name: 'blanket', sig: sig64Blanket, pt: peakT64Blanket, pv: peakV64Blanket, box: [861.5, 72, 230, 88], ty: 54, y: [-0.59, 0.53], yt: yTicks64Blk, xl: false, dec: 2 },
  { name: 'bedsheet', sig: sig64Bedsheet, pt: peakT64Bedsheet, pv: peakV64Bedsheet, box: [861.5, 184, 230, 87], ty: 175, y: [-1.48, 1.32], yt: yTicks1, xl: false },
  { name: 'comforter', sig: sig64Comforter, pt: peakT64Comforter, pv: peakV64Comforter, box: [861.5, 296, 230, 87], ty: 289, y: [-1.54, 1.62], yt: yTicks1, xl: true }
];

const columns = [
  { label: '0 mm', color: '#000000', rect: [37.5, 39.5, 253.5, 400] },
  { label: '8 mm', color: '#9fd384', rect: [329.5, 39.5, 229, 400] },
  { label: '32 mm', color: '#3a3af5', rect: [588.5, 39.5, 231, 400] },
  { label: '64 mm', color: '#ff19ff', rect: [862.5, 39.5, 228, 400] }
];

const crossPath = 'path://M0,1 L1,0 L5,4 L9,0 L10,1 L6,5 L10,9 L9,10 L5,6 L1,10 L0,9 L4,5 Z';

const grids = [], xAxes = [], yAxes = [], series = [], graphics = [];
panels.forEach(function (p, i) {
  grids.push({
    left: p.box[0], top: p.box[1], width: p.box[2], height: p.box[3],
    show: true, borderColor: '#4d4d4d', borderWidth: 1.5, backgroundColor: 'transparent',
    containLabel: false, outerBoundsMode: 'none'
  });
  xAxes.push({
    type: 'value', gridIndex: i, min: -0.5, max: 10.5,
    axisLine: { show: false }, splitLine: { show: false },
    axisTick: { show: true, length: 5, lineStyle: { color: '#222', width: 1 }, customValues: xTicks },
    axisLabel: { show: p.xl, customValues: xTicks, fontSize: 19, color: '#111', fontFamily: FONT, margin: 6 }
  });
  yAxes.push({
    type: 'value', gridIndex: i, min: p.y[0], max: p.y[1],
    axisLine: { show: false }, splitLine: { show: false },
    axisTick: { show: true, length: 5, lineStyle: { color: '#222', width: 1 }, customValues: p.yt },
    axisLabel: {
      show: true, customValues: p.yt, fontSize: 19, color: '#111', fontFamily: FONT, margin: 5,
      formatter: function (v) { return p.dec ? v.toFixed(p.dec) : String(v); }
    }
  });
  series.push({
    type: 'line', xAxisIndex: i, yAxisIndex: i, data: p.sig,
    showSymbol: false, lineStyle: { color: '#1f77b4', width: 1.6 }, z: 2, silent: true
  });
  series.push({
    type: 'scatter', xAxisIndex: i, yAxisIndex: i,
    data: p.pt.map(function (t, k) { return [t, p.pv[k]]; }),
    symbol: crossPath, symbolSize: 8, itemStyle: { color: '#ff7f0e' }, z: 3, silent: true
  });
  graphics.push({
    type: 'text', x: p.box[0] + p.box[2] / 2, y: p.ty,
    style: { text: p.name, font: '18px ' + FONT, fill: '#111', align: 'center', verticalAlign: 'middle' }
  });
});

columns.forEach(function (c) {
  graphics.push({
    type: 'rect', shape: { x: c.rect[0], y: c.rect[1], width: c.rect[2], height: c.rect[3] },
    style: { fill: 'none', stroke: c.color, lineWidth: 1.5 }, z: 100
  });
  graphics.push({
    type: 'text', x: c.rect[0] + 3, y: c.rect[1] + c.rect[3] - 13,
    style: { text: c.label, font: 'bold 21px ' + FONT, fill: c.color, align: 'left', verticalAlign: 'middle' }, z: 100
  });
});

graphics.push({
  type: 'text', x: 603, y: 21,
  style: { text: '10-Second Segments of Raw Through-Textile Dr of One Subject', font: '24px ' + FONT, fill: '#111', align: 'center', verticalAlign: 'middle' }
});
graphics.push({
  type: 'text', x: 583, y: 468,
  style: { text: 'Time [s]', font: '26px ' + FONT, fill: '#111', align: 'center', verticalAlign: 'middle' }
});
graphics.push({
  type: 'text', x: 22, y: 229, rotation: Math.PI / 2,
  style: { text: 'Pixels', font: '25px ' + FONT, fill: '#111', align: 'center', verticalAlign: 'middle' }
});

const chart = echarts.init(document.getElementById('chart'), null, { renderer: 'canvas' });
chart.setOption({
  animation: false,
  backgroundColor: '#ffffff',
  grid: grids,
  xAxis: xAxes,
  yAxis: yAxes,
  series: series,
  graphic: graphics
});
</script>
</body>
</html>
